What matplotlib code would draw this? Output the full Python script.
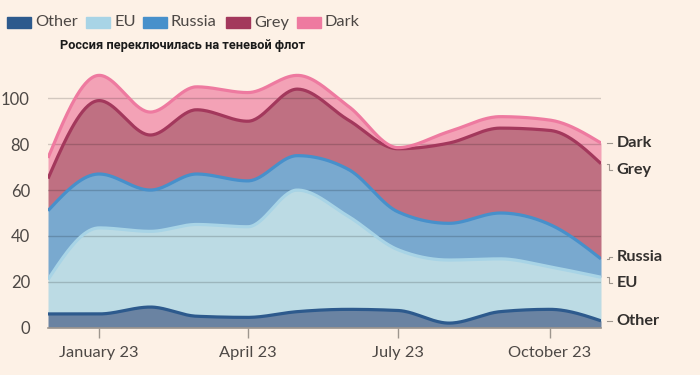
import numpy as np
import pandas as pd
import matplotlib
matplotlib.use("Agg")
import matplotlib.pyplot as plt
import matplotlib.dates as mdates
import matplotlib.transforms as mtransforms
from matplotlib.patches import Rectangle

# monthly values (cumulative tops)
months = pd.date_range("2022-12-01", "2023-11-01", freq="MS")
series = ["Other", "EU", "Russia", "Grey", "Dark"]
other_top = [6, 6, 9, 5, 4.5, 7, 8, 7.5, 2, 7, 8, 3]
eu_top = [21, 43.5, 42, 45, 44, 60, 48.5, 34, 29.5, 30, 26.5, 22]
russia_top = [51, 67, 60, 67, 64, 75, 69, 50.5, 45.5, 50, 45, 30]
grey_top = [65, 99, 84, 95, 90, 104, 90.5, 78, 80.5, 87, 86, 71.5]
dark_top = [74, 110, 94, 105, 102.5, 110, 96.5, 78.5, 85.5, 92, 90.5, 80.5]
label_pos = [2.8, 19.3, 30.7, 68.6, 80.4]

line_colors = ["#2d5a8d", "#a8d4e6", "#4790cb", "#a3385c", "#ee7aa0"]
fill_colors = ["#6a83a2", "#bcdbe4", "#79a9cf", "#bf7082", "#f3a2b6"]
BG = "#fdf1e6"
TXT = "#4d4845"

plt.rcParams["font.family"] = ["Lato", "DejaVu Sans"]


def monotone(x, y, n=400):
    # d3 curveMonotoneX style cubic hermite
    x = np.asarray(x, float)
    y = np.asarray(y, float)
    h = np.diff(x)
    s = np.diff(y) / h
    m = np.zeros_like(y)
    for k in range(1, len(y) - 1):
        p = (s[k - 1] * h[k] + s[k] * h[k - 1]) / (h[k - 1] + h[k])
        m[k] = (np.sign(s[k - 1]) + np.sign(s[k])) * min(abs(s[k - 1]), abs(s[k]), 0.5 * abs(p))
    m[0] = (3 * s[0] - m[1]) / 2
    m[-1] = (3 * s[-1] - m[-2]) / 2
    xs = np.linspace(x[0], x[-1], n)
    idx = np.clip(np.searchsorted(x, xs) - 1, 0, len(x) - 2)
    t = (xs - x[idx]) / h[idx]
    h00 = 2 * t**3 - 3 * t**2 + 1
    h10 = t**3 - 2 * t**2 + t
    h01 = -2 * t**3 + 3 * t**2
    h11 = t**3 - t**2
    ys = h00 * y[idx] + h10 * h[idx] * m[idx] + h01 * y[idx + 1] + h11 * h[idx] * m[idx + 1]
    return xs, ys


fig = plt.figure(figsize=(7, 3.75), dpi=100, facecolor=BG)
ax = fig.add_axes([48 / 700, (375 - 327.7) / 375, 553 / 700, 120 * 2.294 / 375])
ax.set_facecolor(BG)

xnum = mdates.date2num(months)
tops = [other_top, eu_top, russia_top, grey_top, dark_top]
curves = [monotone(xnum, t) for t in tops]
xs = curves[0][0]

prev = np.zeros_like(xs)
for i, (cx, cy) in enumerate(curves):
    ax.fill_between(cx, prev, cy, color=fill_colors[i], lw=0, zorder=1 + i * 0.01)
    prev = cy

for v in [20, 40, 60, 80, 100]:
    ax.axhline(v, color="#000000", alpha=0.17, lw=1, zorder=2)

for i, (cx, cy) in enumerate(curves):
    ax.plot(cx, cy, color=line_colors[i], lw=2.3, zorder=3 + i * 0.01, solid_capstyle="butt")

ax.set_xlim(xnum[0], xnum[-1])
ax.set_ylim(0, 120)
for sp in ["top", "right", "left"]:
    ax.spines[sp].set_visible(False)
ax.spines["bottom"].set_color("#9e968e")
ax.spines["bottom"].set_linewidth(1.2)
ax.spines["bottom"].set_zorder(5)

ax.set_yticks([0, 20, 40, 60, 80, 100])
ax.tick_params(axis="y", length=0, pad=13, labelsize=12, labelcolor=TXT)
ticks = mdates.date2num(pd.to_datetime(["2023-01-01", "2023-04-01", "2023-07-01", "2023-10-01"]))
ax.set_xticks(ticks)
ax.set_xticklabels(["January 23", "April 23", "July 23", "October 23"])
ax.tick_params(axis="x", length=7, width=1, color="#9e968e", pad=6, labelsize=11.8, labelcolor=TXT)

# end labels with small step connectors
trans = mtransforms.blended_transform_factory(ax.transAxes, ax.transData)
for i, name in enumerate(series):
    y0 = tops[i][-1]
    y1 = label_pos[i]
    ax.plot([1.010, 1.014, 1.014, 1.019], [y0, y0, y1, y1], transform=trans,
            color="#9e968e", lw=0.8, clip_on=False)
    ax.text(1.028, y1, name, transform=trans, va="center", ha="left",
            fontsize=11.7, color="#33302e", fontweight="bold")

# legend on top
leg_x = [7, 86, 143, 226, 297]
for i, name in enumerate(series):
    fig.patches.append(Rectangle((leg_x[i] / 700, 1 - 28 / 375), 24 / 700, 11 / 375,
                                 transform=fig.transFigure, color=line_colors[i]))
    fig.text((leg_x[i] + 28) / 700, 1 - 22.5 / 375, name, va="center", ha="left",
             fontsize=11.8, color=TXT)

fig.text(60 / 700, 1 - 46 / 375, "Россия переключилась на теневой флот",
         family=["Roboto", "DejaVu Sans"], fontweight="bold", fontsize=9.2,
         color="#1a1a1a", va="center", ha="left")

fig.savefig("out.png", dpi=100, facecolor=BG)
